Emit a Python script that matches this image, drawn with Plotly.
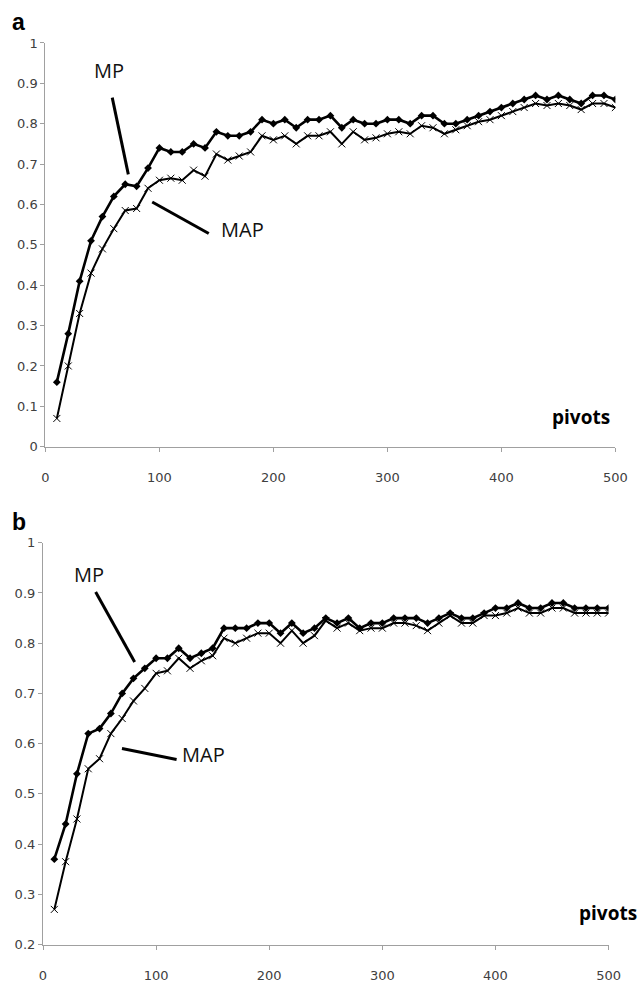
import plotly.graph_objects as go

W, H = 642, 989

pivots = list(range(10, 501, 10))

mp_a = [0.16, 0.28, 0.41, 0.51, 0.57, 0.62, 0.65, 0.645, 0.69, 0.74,
        0.73, 0.73, 0.75, 0.74, 0.78, 0.77, 0.77, 0.78, 0.81, 0.80,
        0.81, 0.79, 0.81, 0.81, 0.82, 0.79, 0.81, 0.80, 0.80, 0.81,
        0.81, 0.80, 0.82, 0.82, 0.80, 0.80, 0.81, 0.82, 0.83, 0.84,
        0.85, 0.86, 0.87, 0.86, 0.87, 0.86, 0.85, 0.87, 0.87, 0.86]
map_a = [0.07, 0.20, 0.33, 0.43, 0.49, 0.54, 0.585, 0.59, 0.64, 0.66,
         0.665, 0.66, 0.685, 0.67, 0.725, 0.71, 0.72, 0.73, 0.77, 0.76,
         0.77, 0.75, 0.77, 0.77, 0.78, 0.75, 0.78, 0.76, 0.765, 0.775,
         0.78, 0.775, 0.795, 0.79, 0.775, 0.785, 0.795, 0.805, 0.81, 0.82,
         0.83, 0.84, 0.85, 0.845, 0.85, 0.845, 0.835, 0.85, 0.85, 0.84]

mp_b = [0.37, 0.44, 0.54, 0.62, 0.63, 0.66, 0.70, 0.73, 0.75, 0.77,
        0.77, 0.79, 0.77, 0.78, 0.79, 0.83, 0.83, 0.83, 0.84, 0.84,
        0.82, 0.84, 0.82, 0.83, 0.85, 0.84, 0.85, 0.83, 0.84, 0.84,
        0.85, 0.85, 0.85, 0.84, 0.85, 0.86, 0.85, 0.85, 0.86, 0.87,
        0.87, 0.88, 0.87, 0.87, 0.88, 0.88, 0.87, 0.87, 0.87, 0.87]
map_b = [0.27, 0.365, 0.45, 0.55, 0.57, 0.62, 0.65, 0.685, 0.71, 0.74,
         0.745, 0.77, 0.75, 0.765, 0.775, 0.81, 0.80, 0.81, 0.82, 0.82,
         0.80, 0.825, 0.80, 0.815, 0.845, 0.83, 0.84, 0.825, 0.83, 0.83,
         0.84, 0.84, 0.835, 0.825, 0.84, 0.855, 0.84, 0.84, 0.855, 0.855,
         0.86, 0.87, 0.86, 0.86, 0.87, 0.87, 0.86, 0.86, 0.86, 0.86]

x_ticks = [0, 100, 200, 300, 400, 500]
y_ticks_a = [0, 0.1, 0.2, 0.3, 0.4, 0.5, 0.6, 0.7, 0.8, 0.9, 1]
y_ticks_b = [0.2, 0.3, 0.4, 0.5, 0.6, 0.7, 0.8, 0.9, 1]


def fx(px):
    return px / W


def fy(py):
    return 1 - py / H


fig = go.Figure()

mp_line = dict(color="black", width=2.6)
map_line = dict(color="black", width=2.0)
mp_marker = dict(symbol="diamond", size=6, color="black")
map_marker = dict(symbol="x-thin-open", size=7, line=dict(color="#555", width=1))

fig.add_trace(go.Scatter(x=pivots, y=mp_a, mode="lines+markers", line=mp_line,
                         marker=mp_marker, xaxis="x", yaxis="y", name="MP"))
fig.add_trace(go.Scatter(x=pivots, y=map_a, mode="lines+markers", line=map_line,
                         marker=map_marker, xaxis="x", yaxis="y", name="MAP"))
fig.add_trace(go.Scatter(x=pivots, y=mp_b, mode="lines+markers", line=mp_line,
                         marker=mp_marker, xaxis="x2", yaxis="y2", name="MP"))
fig.add_trace(go.Scatter(x=pivots, y=map_b, mode="lines+markers", line=map_line,
                         marker=map_marker, xaxis="x2", yaxis="y2", name="MAP"))

tick_font = dict(family="DejaVu Sans, Arial, sans-serif", size=13, color="#404040")
axis_common = dict(showgrid=False, zeroline=False, showline=True, linecolor="#a0a0a0",
                   linewidth=1.2, ticks="outside", tickcolor="#a0a0a0", ticklen=4,
                   tickfont=tick_font)

fig.update_layout(
    width=W, height=H,
    margin=dict(l=0, r=0, t=0, b=0),
    paper_bgcolor="white", plot_bgcolor="white",
    showlegend=False,
    xaxis=dict(domain=[fx(42.5), fx(627)], range=[0, 500], tickvals=x_ticks,
               anchor="y", ticklabelstandoff=15, **axis_common),
    yaxis=dict(domain=[fy(446.5), fy(36.5)], range=[0, 1], tickvals=y_ticks_a,
               ticktext=[("%g" % v) for v in y_ticks_a], anchor="x", **axis_common),
    xaxis2=dict(domain=[fx(40), fx(620)], range=[0, 500], tickvals=x_ticks,
                anchor="y2", ticklabelstandoff=15, **axis_common),
    yaxis2=dict(domain=[fy(952), fy(544)], range=[0.2, 1], tickvals=y_ticks_b,
                ticktext=[("%g" % v) for v in y_ticks_b], anchor="x2", **axis_common),
)

label_font = dict(family="Open Sans, Lato, sans-serif", size=20, color="#111")
pv_font = dict(family="Open Sans, Lato, sans-serif", size=19, color="black")
annots = [
    dict(text="<b>a</b>", x=fx(6), y=fy(15), xanchor="left", yanchor="middle",
         font=dict(family="Liberation Sans, Arial", size=23, color="black")),
    dict(text="<b>b</b>", x=fx(6), y=fy(523), xanchor="left", yanchor="middle",
         font=dict(family="Liberation Sans, Arial", size=23, color="black")),
    dict(text="MP", x=fx(90), y=fy(64), xanchor="left", yanchor="middle", font=label_font),
    dict(text="MAP", x=fx(220), y=fy(226), xanchor="left", yanchor="middle", font=label_font),
    dict(text="MP", x=fx(70), y=fy(576), xanchor="left", yanchor="middle", font=label_font),
    dict(text="MAP", x=fx(181), y=fy(759), xanchor="left", yanchor="middle", font=label_font),
    dict(text="<b>pivots</b>", x=fx(560), y=fy(416), xanchor="left", yanchor="middle",
         font=pv_font),
    dict(text="<b>pivots</b>", x=fx(588), y=fy(920), xanchor="left", yanchor="middle",
         font=pv_font),
]
for a in annots:
    a.update(xref="paper", yref="paper", showarrow=False)
fig.update_layout(annotations=annots)

leaders = [
    ((111, 92), (127.5, 170)),
    ((152, 198), (210, 230)),
    ((94, 594), (134, 665)),
    ((121, 753), (177, 764)),
]
shapes = []
for (x0, y0), (x1, y1) in leaders:
    shapes.append(dict(type="line", xref="paper", yref="paper",
                       x0=fx(x0), y0=fy(y0), x1=fx(x1), y1=fy(y1),
                       line=dict(color="black", width=3)))
fig.update_layout(shapes=shapes)

fig.write_html("out.html")
